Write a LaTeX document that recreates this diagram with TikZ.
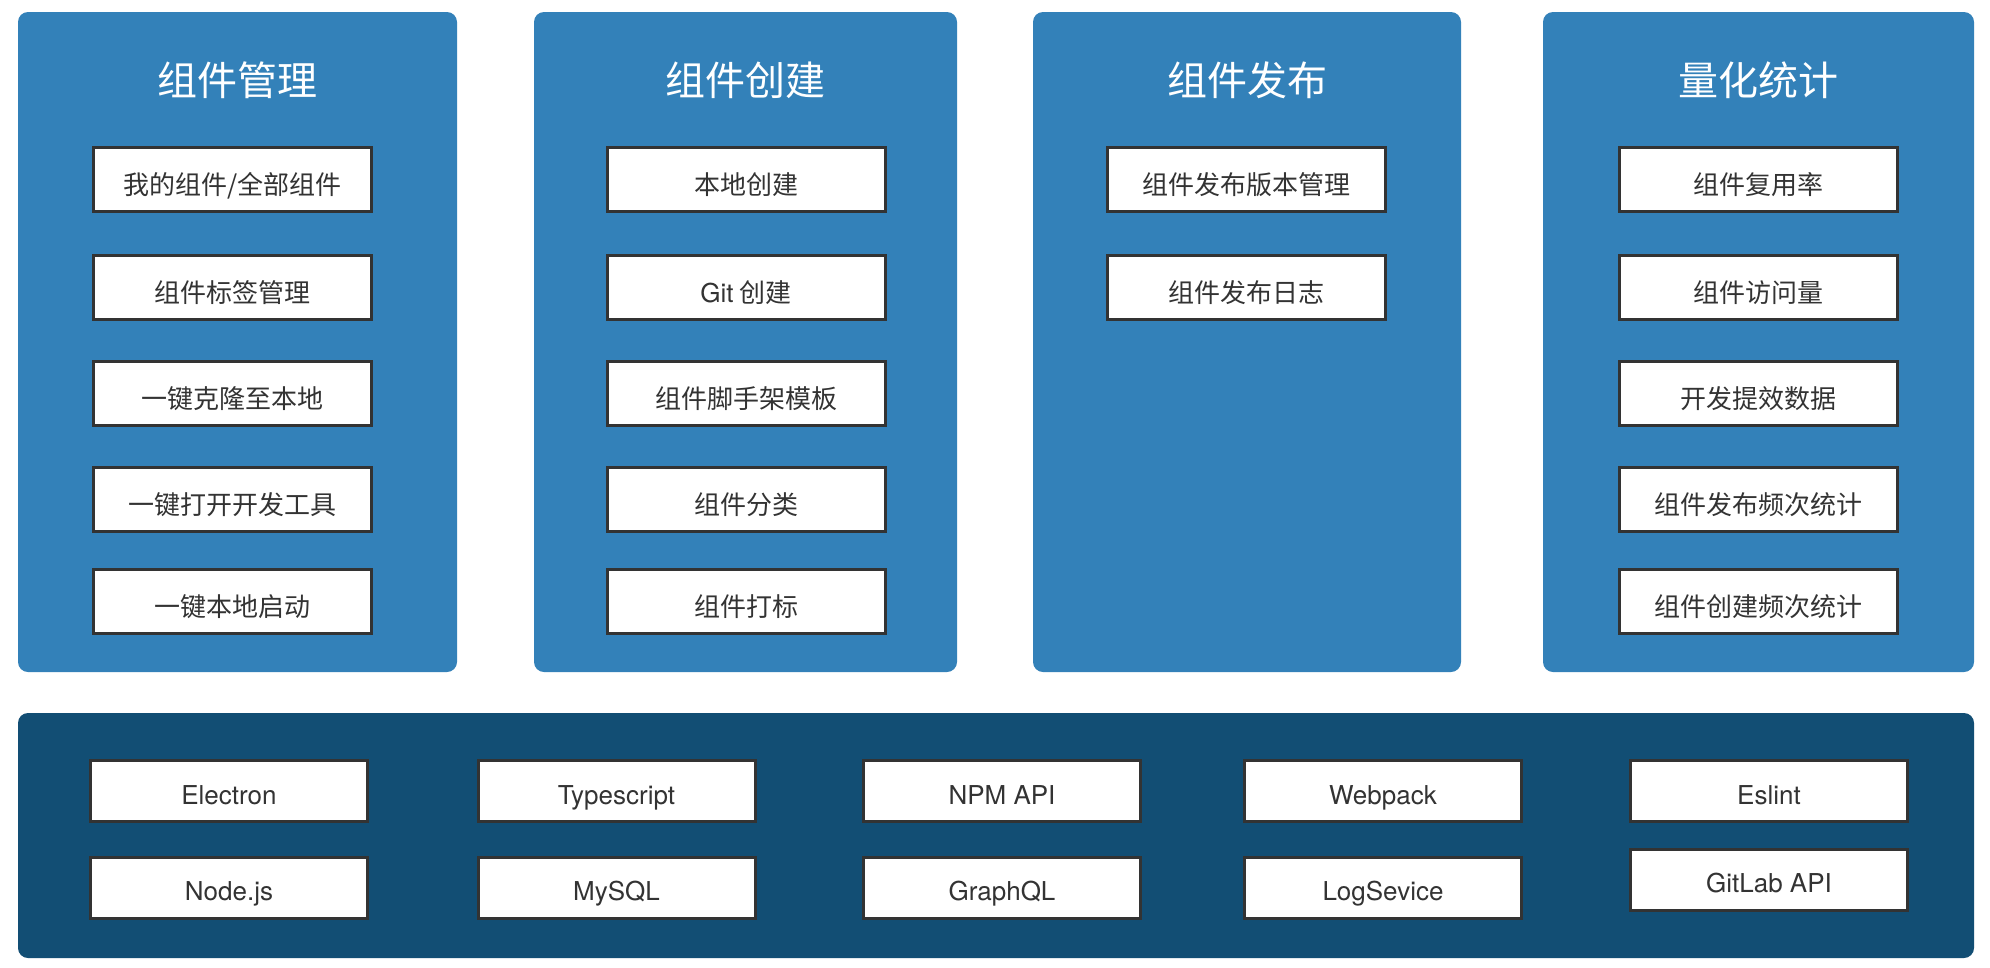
\documentclass[tikz,border=0pt]{standalone}
\usepackage{fontspec}
\newfontfamily\cjk{Noto Sans CJK SC}
\newfontfamily\lat{TeX Gyre Heros}
\definecolor{panelblue}{HTML}{3381B9}
\definecolor{darkblue}{HTML}{124E74}
\definecolor{ink}{HTML}{333333}
\begin{document}
\begin{tikzpicture}[x=1pt,y=-1pt,
  panel/.style={fill=panelblue, draw=none, rounded corners=10pt, anchor=north west, inner sep=0, outer sep=0},
  basepanel/.style={fill=darkblue, draw=none, rounded corners=10pt, anchor=north west, inner sep=0, outer sep=0},
  title/.style={text=white, font=\cjk\fontsize{40}{48}\selectfont, inner sep=0, anchor=base},
  item/.style={draw=ink, line width=3pt, fill=white, minimum width=278pt, minimum height=64pt,
    inner sep=0, text=ink, text height=29.5pt, text depth=0pt, font=\cjk\fontsize{26}{30}\selectfont},
  tech/.style={item, minimum width=277pt, minimum height=61pt, text height=26pt, font=\lat\fontsize{26}{30}\selectfont}]
\useasboundingbox (0,0) rectangle (1990,967);
\fill[white] (0,0) rectangle (1990,967);

% panels
\node[panel, minimum width=439pt, minimum height=660pt] (p1) at (18,12) {};
\node[panel, minimum width=423pt, minimum height=660pt] (p2) at (534,12) {};
\node[panel, minimum width=428pt, minimum height=660pt] (p3) at (1033,12) {};
\node[panel, minimum width=431pt, minimum height=660pt] (p4) at (1543,12) {};
\node[basepanel, minimum width=1956pt, minimum height=245pt] (base) at (18,713) {};

% titles
\node[title] (t1) at (237.5,95) {组件管理};
\node[title] (t2) at (745.5,95) {组件创建};
\node[title] (t3) at (1247,95) {组件发布};
\node[title] (t4) at (1758.5,95) {量化统计};

% panel 1
\node[item] (a1) at (232.5,179.5) {我的组件/全部组件};
\node[item] (a2) at (232.5,287.5) {组件标签管理};
\node[item] (a3) at (232.5,393.5) {一键克隆至本地};
\node[item] (a4) at (232.5,499.5) {一键打开开发工具};
\node[item] (a5) at (232.5,601.5) {一键本地启动};

% panel 2
\node[item] (b1) at (746,179.5) {本地创建};
\node[item] (b2) at (746,287.5) {{\lat Git} 创建};
\node[item] (b3) at (746,393.5) {组件脚手架模板};
\node[item] (b4) at (746,499.5) {组件分类};
\node[item] (b5) at (746,601.5) {组件打标};

% panel 3
\node[item] (c1) at (1246,179.5) {组件发布版本管理};
\node[item] (c2) at (1246,287.5) {组件发布日志};

% panel 4
\node[item] (d1) at (1758.5,179.5) {组件复用率};
\node[item] (d2) at (1758.5,287.5) {组件访问量};
\node[item] (d3) at (1758.5,393.5) {开发提效数据};
\node[item] (d4) at (1758.5,499.5) {组件发布频次统计};
\node[item] (d5) at (1758.5,601.5) {组件创建频次统计};

% base technologies
\node[tech] (e1) at (229,791) {Electron};
\node[tech] (e2) at (616.5,791) {Typescript};
\node[tech] (e3) at (1002,791) {NPM API};
\node[tech] (e4) at (1383,791) {Webpack};
\node[tech] (e5) at (1769,791) {Eslint};
\node[tech] (f1) at (229,887.5) {Node.js};
\node[tech] (f2) at (616.5,887.5) {MySQL};
\node[tech] (f3) at (1002,887.5) {GraphQL};
\node[tech] (f4) at (1383,887.5) {LogSevice};
\node[tech] (f5) at (1769,879.5) {GitLab API};
\end{tikzpicture}
\end{document}
